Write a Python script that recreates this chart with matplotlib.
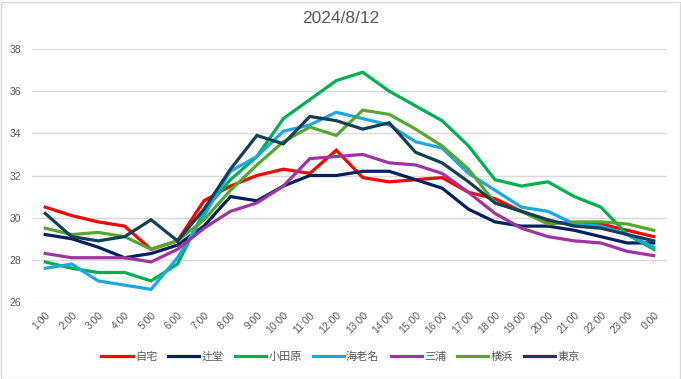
import matplotlib
matplotlib.use("Agg")
import matplotlib.pyplot as plt
from matplotlib.patches import Rectangle

plt.rcParams["font.family"] = ["Liberation Sans", "Noto Sans CJK JP", "DejaVu Sans"]

hours = ["1:00", "2:00", "3:00", "4:00", "5:00", "6:00", "7:00", "8:00",
         "9:00", "10:00", "11:00", "12:00", "13:00", "14:00", "15:00", "16:00",
         "17:00", "18:00", "19:00", "20:00", "21:00", "22:00", "23:00", "0:00"]

jitaku = [30.5, 30.1, 29.8, 29.6, 28.5, 28.9, 30.8, 31.5, 32.0, 32.3, 32.1, 33.2,
          31.9, 31.7, 31.8, 31.9, 31.2, 30.9, 30.3, 29.8, 29.7, 29.7, 29.4, 29.1]
tsujido = [29.2, 29.0, 28.6, 28.1, 28.3, 28.7, 29.6, 31.0, 30.8, 31.5, 32.0, 32.0,
           32.2, 32.2, 31.8, 31.4, 30.4, 29.8, 29.6, 29.6, 29.4, 29.1, 28.8, 28.8]
odawara = [27.9, 27.6, 27.4, 27.4, 27.0, 27.8, 30.3, 31.8, 32.9, 34.7, 35.6, 36.5,
           36.9, 36.0, 35.3, 34.6, 33.4, 31.8, 31.5, 31.7, 31.0, 30.5, 29.2, 28.5]
ebina = [27.6, 27.8, 27.0, 26.8, 26.6, 28.1, 30.1, 32.2, 32.9, 34.1, 34.4, 35.0,
         34.7, 34.4, 33.6, 33.3, 32.1, 31.3, 30.5, 30.3, 29.7, 29.6, 29.2, 28.6]
miura = [28.3, 28.1, 28.1, 28.1, 27.9, 28.5, 29.5, 30.3, 30.7, 31.5, 32.8, 32.9,
         33.0, 32.6, 32.5, 32.1, 31.2, 30.2, 29.5, 29.1, 28.9, 28.8, 28.4, 28.2]
yokohama = [29.5, 29.2, 29.3, 29.1, 28.5, 28.9, 29.9, 31.3, 32.5, 33.6, 34.3, 33.9,
            35.1, 34.9, 34.2, 33.4, 32.3, 30.7, 30.3, 29.7, 29.8, 29.8, 29.7, 29.4]
tokyo = [30.2, 29.1, 28.9, 29.1, 29.9, 28.9, 30.4, 32.3, 33.9, 33.5, 34.8, 34.6,
         34.2, 34.5, 33.1, 32.6, 31.7, 30.7, 30.3, 29.9, 29.6, 29.5, 29.2, 28.9]

series = [
    ("自宅", jitaku, "#FF0000"),
    ("辻堂", tsujido, "#002060"),
    ("小田原", odawara, "#00B050"),
    ("海老名", ebina, "#1CA7E0"),
    ("三浦", miura, "#A0339F"),
    ("横浜", yokohama, "#58A632"),
    ("東京", tokyo, "#123F56"),
]

fig = plt.figure(figsize=(6.81, 3.79), dpi=100)
ax = fig.add_axes([32 / 681, 1 - 302 / 379, 635 / 681, 253 / 379])

x = list(range(len(hours)))
for name, vals, color in series:
    ax.plot(x, vals, color=color, linewidth=2.3, label=name, solid_joinstyle="miter")

ax.set_xlim(-0.5, len(hours) - 0.5)
ax.set_ylim(26, 38)
ax.set_yticks(range(26, 39, 2))
ax.set_xticks(x)
ax.set_xticklabels(hours, rotation=45, ha="right", rotation_mode="anchor")
ax.tick_params(axis="both", length=0, labelsize=7.5, colors="#595959")
ax.tick_params(axis="x", pad=6)
ax.tick_params(axis="y", pad=8)
ax.grid(axis="y", color="#D9D9D9", linewidth=1.0)
ax.set_axisbelow(True)
for s in ax.spines.values():
    s.set_visible(False)

fig.suptitle("2024/8/12", y=0.97, fontsize=12.5, color="#595959")

fig.legend(loc="center", bbox_to_anchor=(0.5, 1 - 357 / 379), ncol=7,
           frameon=False, fontsize=8, handlelength=2.8, columnspacing=1.0,
           handletextpad=0.2, labelcolor="#595959")

fig.add_artist(Rectangle((0.5 / 681, 0.5 / 379), 679 / 681, 377 / 379,
                         transform=fig.transFigure, fill=False,
                         edgecolor="#D9D9D9", linewidth=1.0))

fig.savefig("out.png", dpi=100)
